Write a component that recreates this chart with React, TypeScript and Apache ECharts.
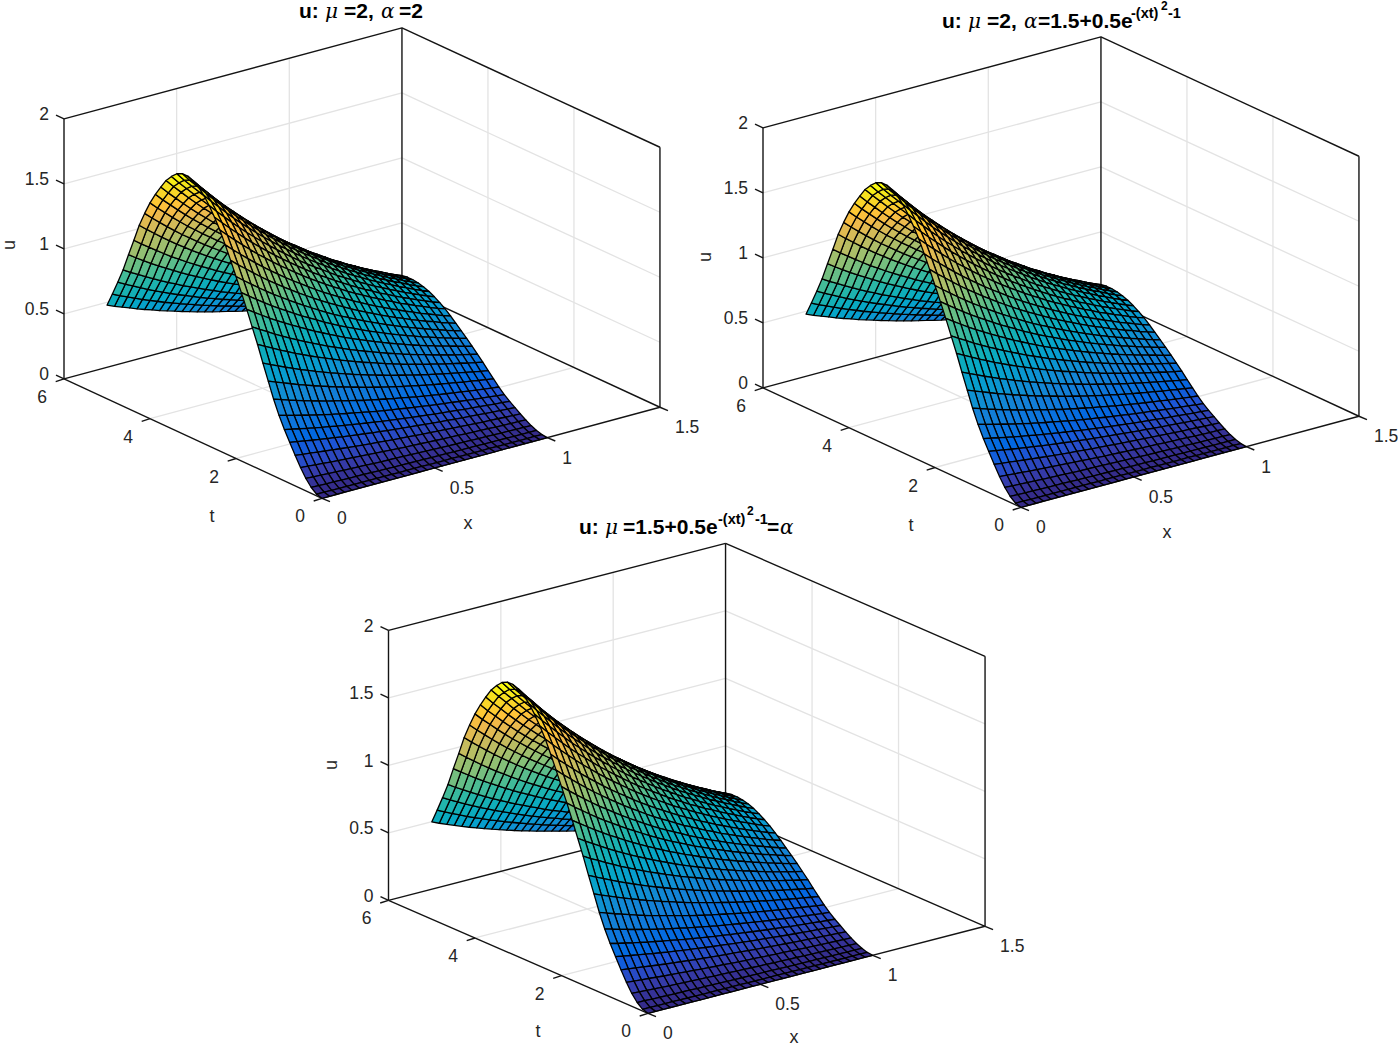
import React, { useEffect, useRef } from "react";
import * as echarts from "echarts";

const xGrid = [0,.0333,.0667,.1,.1333,.1667,.2,.2333,.2667,.3,.3333,.3667,.4,.4333,.4667,.5,.5333,.5667,.6,.6333,.6667,.7,.7333,.7667,.8,.8333,.8667,.9,.9333,.9667,1];
const tGrid = [0,.125,.25,.375,.5,.625,.75,.875,1,1.125,1.25,1.375,1.5,1.625,1.75,1.875,2,2.125,2.25,2.375,2.5,2.625,2.75,2.875,3,3.125,3.25,3.375,3.5,3.625,3.75,3.875,4,4.125,4.25,4.375,4.5,4.625,4.75,4.875,5];
// u[t index][x index]
const uTable = [
[0,0,0,0,0,0,0,0,0,0,0,0,0,0,0,0,0,0,0,0,0,0,0,0,0,0,0,0,0,0,0],
[.012,.012,.011,.011,.011,.010,.010,.010,.009,.009,.009,.008,.008,.008,.008,.007,.007,.007,.007,.006,.006,.006,.006,.006,.005,.005,.005,.005,.005,.005,.004],
[.045,.044,.042,.041,.039,.038,.037,.036,.034,.033,.032,.031,.030,.029,.028,.027,.026,.026,.025,.024,.023,.022,.022,.021,.020,.020,.019,.018,.018,.017,.017],
[.095,.092,.089,.086,.083,.080,.078,.075,.073,.070,.068,.066,.064,.062,.060,.058,.056,.054,.052,.050,.049,.047,.046,.044,.043,.041,.040,.039,.037,.036,.035],
[.160,.155,.150,.145,.140,.135,.131,.127,.123,.119,.115,.111,.107,.104,.100,.097,.094,.091,.088,.085,.082,.080,.077,.074,.072,.070,.067,.065,.063,.061,.059],
[.235,.227,.220,.213,.206,.199,.192,.186,.180,.174,.168,.163,.157,.152,.147,.143,.138,.133,.129,.125,.121,.117,.113,.109,.106,.102,.099,.096,.092,.089,.086],
[.315,.305,.295,.285,.276,.266,.258,.249,.241,.233,.226,.218,.211,.204,.198,.191,.185,.179,.173,.167,.162,.157,.151,.146,.141,.137,.132,.128,.124,.120,.116],
[.395,.382,.370,.357,.346,.334,.324,.313,.303,.293,.283,.274,.265,.256,.248,.240,.232,.224,.217,.210,.203,.196,.190,.184,.177,.172,.166,.161,.155,.150,.145],
[.485,.469,.454,.439,.424,.410,.397,.384,.372,.359,.348,.336,.325,.314,.304,.294,.285,.275,.266,.258,.249,.241,.233,.226,.218,.211,.204,.197,.191,.184,.178],
[.590,.571,.552,.534,.516,.499,.483,.467,.452,.437,.423,.409,.395,.382,.370,.358,.346,.335,.324,.313,.303,.293,.283,.274,.265,.257,.248,.240,.232,.224,.217],
[.710,.687,.665,.643,.621,.601,.581,.562,.544,.526,.509,.492,.476,.460,.445,.431,.417,.403,.390,.377,.364,.353,.341,.330,.319,.309,.298,.289,.279,.270,.261],
[.830,.803,.777,.751,.726,.702,.680,.657,.636,.615,.595,.575,.556,.538,.520,.504,.487,.471,.456,.441,.426,.413,.398,.386,.373,.361,.349,.338,.326,.315,.305],
[.955,.923,.894,.864,.836,.808,.782,.756,.732,.708,.685,.662,.640,.619,.599,.580,.561,.541,.524,.507,.490,.475,.458,.444,.429,.415,.401,.389,.375,.363,.351],
[1.070,1.035,1.002,.968,.936,.905,.876,.847,.820,.793,.767,.742,.717,.693,.671,.649,.628,.607,.587,.568,.549,.532,.514,.498,.480,.465,.449,.435,.421,.407,.394],
[1.185,1.146,1.109,1.072,1.037,1.003,.971,.939,.908,.878,.850,.821,.794,.768,.743,.719,.696,.672,.651,.629,.608,.589,.569,.551,.532,.515,.498,.482,.466,.450,.436],
[1.295,1.252,1.212,1.172,1.133,1.096,1.061,1.026,.992,.960,.929,.897,.868,.839,.812,.786,.760,.734,.711,.688,.664,.644,.622,.602,.581,.563,.544,.527,.509,.492,.477],
[1.400,1.354,1.310,1.267,1.225,1.184,1.147,1.109,1.072,1.037,1.004,.970,.938,.907,.878,.850,.822,.794,.769,.743,.718,.696,.672,.651,.629,.609,.588,.570,.550,.532,.515],
[1.505,1.455,1.409,1.362,1.317,1.273,1.233,1.192,1.153,1.115,1.079,1.043,1.008,.975,.944,.914,.883,.853,.826,.799,.772,.748,.722,.700,.676,.655,.632,.613,.591,.572,.554],
[1.605,1.552,1.502,1.453,1.404,1.358,1.314,1.271,1.229,1.189,1.151,1.112,1.075,1.040,1.006,.974,.942,.910,.881,.852,.823,.798,.770,.746,.721,.698,.674,.653,.631,.610,.591],
[1.700,1.644,1.591,1.539,1.488,1.438,1.392,1.346,1.302,1.260,1.219,1.178,1.139,1.102,1.066,1.032,.998,.964,.933,.903,.872,.845,.816,.791,.763,.740,.714,.692,.668,.646,.626],
[1.780,1.721,1.666,1.611,1.558,1.506,1.458,1.410,1.363,1.319,1.276,1.234,1.193,1.153,1.116,1.080,1.045,1.009,.977,.945,.913,.885,.854,.828,.799,.774,.748,.724,.700,.676,.655],
[1.850,1.789,1.732,1.674,1.619,1.565,1.515,1.465,1.417,1.371,1.326,1.282,1.240,1.199,1.160,1.123,1.086,1.049,1.016,.982,.949,.919,.888,.860,.831,.805,.777,.753,.727,.703,.681],
[1.910,1.847,1.788,1.729,1.671,1.616,1.564,1.513,1.463,1.415,1.369,1.324,1.280,1.238,1.198,1.159,1.121,1.083,1.049,1.014,.980,.949,.917,.888,.858,.831,.802,.777,.751,.726,.703],
[1.955,1.890,1.830,1.769,1.711,1.654,1.601,1.548,1.498,1.449,1.402,1.355,1.310,1.267,1.226,1.187,1.148,1.108,1.073,1.038,1.003,.972,.938,.909,.878,.850,.821,.796,.768,.743,.719],
[1.985,1.919,1.858,1.796,1.737,1.679,1.626,1.572,1.521,1.471,1.423,1.376,1.330,1.286,1.245,1.205,1.165,1.125,1.090,1.054,1.018,.987,.953,.923,.891,.863,.834,.808,.780,.754,.730],
[2.000,1.934,1.872,1.810,1.750,1.692,1.638,1.584,1.532,1.482,1.434,1.386,1.340,1.296,1.254,1.214,1.174,1.134,1.098,1.062,1.026,.994,.960,.930,.898,.870,.840,.814,.786,.760,.736],
[2.000,1.934,1.872,1.810,1.750,1.692,1.638,1.584,1.532,1.482,1.434,1.386,1.340,1.296,1.254,1.214,1.174,1.134,1.098,1.062,1.026,.994,.960,.930,.898,.870,.840,.814,.786,.760,.736],
[1.980,1.915,1.853,1.792,1.733,1.675,1.622,1.568,1.517,1.467,1.420,1.372,1.327,1.283,1.241,1.202,1.162,1.123,1.087,1.051,1.016,.984,.950,.921,.889,.861,.832,.806,.778,.752,.729],
[1.940,1.876,1.816,1.756,1.698,1.641,1.589,1.536,1.486,1.438,1.391,1.344,1.300,1.257,1.216,1.178,1.139,1.100,1.065,1.030,.995,.964,.931,.902,.871,.844,.815,.790,.762,.737,.714],
[1.890,1.828,1.769,1.710,1.654,1.599,1.548,1.497,1.448,1.400,1.355,1.310,1.266,1.225,1.185,1.147,1.109,1.072,1.038,1.004,.970,.939,.907,.879,.849,.822,.794,.769,.743,.718,.696],
[1.820,1.760,1.704,1.647,1.593,1.540,1.491,1.441,1.394,1.349,1.305,1.261,1.219,1.179,1.141,1.105,1.068,1.032,.999,.966,.934,.905,.874,.846,.817,.792,.764,.741,.715,.692,.670],
[1.745,1.687,1.633,1.579,1.527,1.476,1.429,1.382,1.337,1.293,1.251,1.209,1.169,1.131,1.094,1.059,1.024,.989,.958,.927,.895,.867,.838,.811,.784,.759,.733,.710,.686,.663,.642],
[1.660,1.605,1.554,1.502,1.453,1.404,1.360,1.315,1.272,1.230,1.190,1.150,1.112,1.076,1.041,1.008,.974,.941,.911,.881,.852,.825,.797,.772,.745,.722,.697,.676,.652,.631,.611],
[1.560,1.509,1.460,1.412,1.365,1.320,1.278,1.236,1.195,1.156,1.119,1.081,1.045,1.011,.978,.947,.916,.885,.856,.828,.800,.775,.749,.725,.700,.679,.655,.635,.613,.593,.574],
[1.450,1.402,1.357,1.312,1.269,1.227,1.188,1.148,1.111,1.074,1.040,1.005,.972,.940,.909,.880,.851,.822,.796,.770,.744,.721,.696,.674,.651,.631,.609,.590,.570,.551,.534],
[1.315,1.272,1.231,1.190,1.151,1.112,1.077,1.041,1.007,.974,.943,.911,.881,.852,.825,.798,.772,.746,.722,.698,.675,.654,.631,.611,.590,.572,.552,.535,.517,.500,.484],
[1.185,1.146,1.109,1.072,1.037,1.003,.971,.939,.908,.878,.850,.821,.794,.768,.743,.719,.696,.672,.651,.629,.608,.589,.569,.551,.532,.515,.498,.482,.466,.450,.436],
[1.050,1.015,.983,.950,.919,.888,.860,.832,.804,.778,.753,.728,.704,.680,.658,.637,.616,.595,.576,.558,.539,.522,.504,.488,.471,.457,.441,.427,.413,.399,.386],
[.935,.904,.875,.846,.818,.791,.766,.741,.716,.693,.670,.648,.626,.606,.586,.568,.549,.530,.513,.496,.480,.465,.449,.435,.420,.407,.393,.381,.367,.355,.344],
[.825,.798,.772,.747,.722,.698,.676,.653,.632,.611,.592,.572,.553,.535,.517,.501,.484,.468,.453,.438,.423,.410,.396,.384,.370,.359,.347,.336,.324,.314,.304],
[.720,.696,.674,.652,.630,.609,.590,.570,.552,.534,.516,.499,.482,.467,.451,.437,.423,.408,.395,.382,.369,.358,.346,.335,.323,.313,.302,.293,.283,.274,.265],
];

const xTicks = [0, 0.5, 1, 1.5];
const tTicks = [0, 2, 4, 6];
const uTicks = [0, 0.5, 1, 1.5, 2];
const X_MAX = 1.5, T_MAX = 6, U_MAX = 2;

const parula = ["#352a87","#353dad","#2053d4","#0268e1","#0d75dc","#1481d6","#108ed2","#079ccf","#06a7c6","#0faeb9","#25b5a9","#42bb98","#65be86","#87bf77","#a5be6b","#c0bc60","#d9ba56","#f1b94a","#ffc337","#f9d32a","#f5e41d","#f9fb0e"];

const SERIF = "'DejaVu Serif', 'Liberation Serif', serif";
const SANS = "'Liberation Sans', Arial, sans-serif";

const MAIN = 21, SUP = 14.5, SUP2 = 12;
type Run = { s: string; x: number; y: number; size?: number; greek?: boolean };
const plots: { ox: number; oy: number; ex: number[]; et: number[]; ez: number; title: Run[]; uLabel: number[] }[] = [
  { ox: 322, oy: 498.3, ex: [225.3, -60.7], et: [-43, -19.9], ez: 130, uLabel: [9, 245],
    title: [
      { s: "u:", x: 299, y: 10.5 }, { s: "\u03bc", x: 325, y: 11, greek: true }, { s: "=2,", x: 344, y: 10.5 },
      { s: "\u03b1", x: 381, y: 11, greek: true }, { s: "=2", x: 399, y: 10.5 },
    ] },
  { ox: 1021, oy: 507.3, ex: [225.3, -60.7], et: [-43, -19.9], ez: 130, uLabel: [705, 257],
    title: [
      { s: "u:", x: 942, y: 20 }, { s: "\u03bc", x: 968, y: 21, greek: true }, { s: "=2,", x: 987, y: 20 },
      { s: "\u03b1", x: 1024, y: 21, greek: true }, { s: "=1.5+0.5e", x: 1038, y: 20 },
      { s: "-(xt)", x: 1131, y: 13, size: SUP }, { s: "2", x: 1161, y: 6, size: SUP2 }, { s: "-1", x: 1168, y: 13, size: SUP },
    ] },
  { ox: 648, oy: 1013.3, ex: [224.7, -58], et: [-43.25, -18.83], ez: 135, uLabel: [331, 765],
    title: [
      { s: "u:", x: 579, y: 526 }, { s: "\u03bc", x: 605, y: 527, greek: true }, { s: "=1.5+0.5e", x: 623, y: 526 },
      { s: "-(xt)", x: 718, y: 519, size: SUP }, { s: "2", x: 747, y: 511, size: SUP2 }, { s: "-1", x: 755, y: 519, size: SUP },
      { s: "=", x: 767, y: 526 }, { s: "\u03b1", x: 780, y: 527, greek: true },
    ] },
];

const AXIS = "#141414", GRID = "#e3e3e3", TICKTEXT = "#262626";

function buildOption() {
  const series: any[] = [];
  const graphics: any[] = [];
  const text = (s: string, x: number, y: number, o: any = {}) =>
    graphics.push({ type: "text", x, y, rotation: o.rotation || 0, silent: true, style: {
      text: s, fill: o.fill || TICKTEXT, fontSize: o.size || 17.5, fontFamily: o.family || SANS,
      fontWeight: o.weight || "normal", fontStyle: o.style || "normal",
      align: o.align || "center", verticalAlign: "middle" } });

  plots.forEach((p) => {
    const px = (x: number, t: number) => p.ox + p.ex[0] * x + p.et[0] * t;
    const py = (x: number, t: number, u: number) => p.oy + p.ex[1] * x + p.et[1] * t - p.ez * u;
    const seg = (a: number[], b: number[], style: number, d = [0, 0]) => [
      px(a[0], a[1]), py(a[0], a[1], a[2]), px(b[0], b[1]) + d[0], py(b[0], b[1], b[2]) + d[1], style];

    const segs: number[][] = [];
    // grid on walls and floor
    xTicks.slice(1, -1).forEach((x) => {
      segs.push(seg([x, 0, 0], [x, T_MAX, 0], 0));
      segs.push(seg([x, T_MAX, 0], [x, T_MAX, U_MAX], 0));
    });
    tTicks.slice(1, -1).forEach((t) => {
      segs.push(seg([0, t, 0], [X_MAX, t, 0], 0));
      segs.push(seg([X_MAX, t, 0], [X_MAX, t, U_MAX], 0));
    });
    uTicks.slice(1, -1).forEach((u) => {
      segs.push(seg([0, T_MAX, u], [X_MAX, T_MAX, u], 0));
      segs.push(seg([X_MAX, T_MAX, u], [X_MAX, 0, u], 0));
    });
    // box
    const box = [
      [[0, T_MAX, 0], [X_MAX, T_MAX, 0]], [[X_MAX, T_MAX, 0], [X_MAX, 0, 0]],
      [[0, T_MAX, 0], [0, T_MAX, U_MAX]], [[X_MAX, T_MAX, 0], [X_MAX, T_MAX, U_MAX]], [[X_MAX, 0, 0], [X_MAX, 0, U_MAX]],
      [[0, T_MAX, U_MAX], [X_MAX, T_MAX, U_MAX]], [[X_MAX, T_MAX, U_MAX], [X_MAX, 0, U_MAX]],
      [[0, T_MAX, 0], [0, 0, 0]], [[0, 0, 0], [X_MAX, 0, 0]],
    ];
    box.forEach(([a, b]) => segs.push(seg(a, b, 1)));
    // ticks and their labels
    xTicks.forEach((x) => {
      segs.push(seg([x, 0, 0], [x, 0, 0], 1, [8, 3.4]));
      text(String(x), px(x, 0) + 15, py(x, 0, 0) + 20, { align: "left" });
    });
    tTicks.forEach((t) => {
      segs.push(seg([0, t, 0], [0, t, 0], 1, [-8.3, 2.7]));
      text(String(t), px(0, t) - 22, py(0, t, 0) + 18);
    });
    uTicks.forEach((u) => {
      segs.push(seg([0, T_MAX, u], [0, T_MAX, u], 1, [-8, -3.8]));
      text(String(u), px(0, T_MAX) - 15, py(0, T_MAX, u) - 4.5, { align: "right" });
    });
    text("u", p.uLabel[0], p.uLabel[1], { rotation: Math.PI / 2, size: 18 });
    text("t", p.ox - 110, p.oy + 18, { size: 18 });
    text("x", p.ox + 146, Math.min(p.oy + 25, 1037), { size: 18 });
    p.title.forEach((r) =>
      text(r.s, r.x, r.y, r.greek
        ? { align: "left", size: 20, family: SERIF, style: "italic", fill: "#000" }
        : { align: "left", size: r.size || MAIN, weight: "bold", fill: "#000" }));

    series.push({
      type: "custom", coordinateSystem: "cartesian2d", silent: true, clip: false, z: 1, progressive: 0,
      data: segs,
      renderItem: (_: any, api: any) => {
        const a = api.coord([api.value(0), api.value(1)]);
        const b = api.coord([api.value(2), api.value(3)]);
        const axis = api.value(4) === 1;
        return { type: "line", shape: { x1: a[0], y1: a[1], x2: b[0], y2: b[1] },
          style: { stroke: axis ? AXIS : GRID, lineWidth: axis ? 1.4 : 1.3, fill: "none" } };
      },
    });

    // cells back to front: far t first, far x first
    const cells: number[][] = [];
    for (let j = tGrid.length - 2; j >= 0; j--)
      for (let i = xGrid.length - 2; i >= 0; i--) {
        cells.push([px(xGrid[i], tGrid[j]), py(xGrid[i], tGrid[j], uTable[j][i]), i, j]);
      }
    series.push({
      type: "custom", coordinateSystem: "cartesian2d", silent: true, clip: false, z: 2, progressive: 0,
      data: cells,
      renderItem: (_: any, api: any) => {
        const i = api.value(2), j = api.value(3);
        const corner = (a: number, b: number) => api.coord([px(xGrid[a], tGrid[b]), py(xGrid[a], tGrid[b], uTable[b][a])]);
        return { type: "polygon", shape: { points: [corner(i, j), corner(i + 1, j), corner(i + 1, j + 1), corner(i, j + 1)] },
          style: { fill: echarts.color.lerp(Math.min(1, uTable[j][i] / U_MAX), parula), stroke: "#000", lineWidth: 1.3, lineJoin: "round" } };
      },
    });
  });

  return {
    animation: false,
    backgroundColor: "#fff",
    grid: { left: 0, right: 0, top: 0, bottom: 0, containLabel: false },
    xAxis: { type: "value", min: 0, max: 1398, show: false },
    yAxis: { type: "value", min: 0, max: 1046, inverse: true, show: false },
    tooltip: { show: false },
    series,
    graphic: { elements: graphics },
  };
}

export default function App() {
  const ref = useRef<HTMLDivElement>(null);
  useEffect(() => {
    document.body.style.margin = "0";
    const chart = echarts.init(ref.current!, undefined, { renderer: "svg", width: 1398, height: 1046 });
    chart.setOption(buildOption() as any);
    return () => chart.dispose();
  }, []);
  return <div ref={ref} style={{ width: 1398, height: 1046 }} />;
}
